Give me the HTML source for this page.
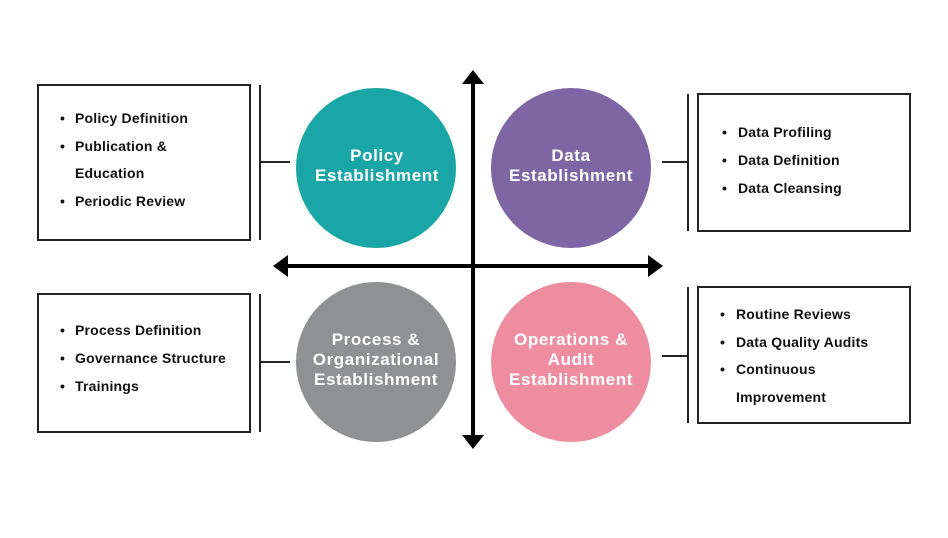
<!DOCTYPE html>
<html><head><style>body{margin:0;background:#fff;width:948px;height:533px;overflow:hidden}</style></head>
<body>
<svg width="948" height="533" viewBox="0 0 948 533" xmlns="http://www.w3.org/2000/svg" font-family="'Liberation Sans',sans-serif">
<rect width="948" height="533" fill="#fff"/>
<g fill="none" stroke="#222" stroke-width="2">
<rect x="38" y="85" width="212" height="155"/>
<rect x="698" y="94" width="212" height="137"/>
<rect x="38" y="294" width="212" height="138"/>
<rect x="698" y="287" width="212" height="136"/>
<line x1="260" y1="85" x2="260" y2="240"/><line x1="260" y1="162" x2="290" y2="162"/>
<line x1="688" y1="94" x2="688" y2="231"/><line x1="662" y1="162" x2="688" y2="162"/>
<line x1="260" y1="294" x2="260" y2="432"/><line x1="260" y1="362" x2="290" y2="362"/>
<line x1="688" y1="287" x2="688" y2="423"/><line x1="662" y1="356" x2="688" y2="356"/>
</g>
<circle cx="376" cy="168" r="80" fill="#1aa6a6"/>
<circle cx="571" cy="168" r="80" fill="#7d66a3"/>
<circle cx="376" cy="362" r="80" fill="#909193"/>
<circle cx="571" cy="362" r="80" fill="#ee8d9f"/>
<g stroke="#000" stroke-width="4"><line x1="473" y1="80" x2="473" y2="438"/><line x1="284" y1="266" x2="652" y2="266"/></g>
<g fill="#000">
<polygon points="473,70 462,84 484,84"/><polygon points="473,449 462,435 484,435"/>
<polygon points="273,266 288,255 288,277"/><polygon points="663,266 648,255 648,277"/>
</g>
<g fill="#fff" font-size="17" font-weight="bold" text-anchor="middle" letter-spacing="0.6">
<text x="377" y="161">Policy</text><text x="377" y="181">Establishment</text>
<text x="571" y="161">Data</text><text x="571" y="181">Establishment</text>
<text x="376" y="345">Process &amp;</text><text x="376" y="365">Organizational</text><text x="376" y="385">Establishment</text>
<text x="571" y="345">Operations &amp;</text><text x="571" y="365">Audit</text><text x="571" y="385">Establishment</text>
</g>
<g fill="#111" font-size="14" font-weight="bold" letter-spacing="0.2">
<text x="60" y="123">•</text><text x="75" y="123">Policy Definition</text>
<text x="60" y="151">•</text><text x="75" y="151">Publication &amp;</text>
<text x="75" y="178">Education</text>
<text x="60" y="206">•</text><text x="75" y="206">Periodic Review</text>
<text x="722" y="137">•</text><text x="738" y="137">Data Profiling</text>
<text x="722" y="165">•</text><text x="738" y="165">Data Definition</text>
<text x="722" y="193">•</text><text x="738" y="193">Data Cleansing</text>
<text x="60" y="335">•</text><text x="75" y="335">Process Definition</text>
<text x="60" y="363">•</text><text x="75" y="363">Governance Structure</text>
<text x="60" y="391">•</text><text x="75" y="391">Trainings</text>
<text x="720" y="319">•</text><text x="736" y="319">Routine Reviews</text>
<text x="720" y="347">•</text><text x="736" y="347">Data Quality Audits</text>
<text x="720" y="374">•</text><text x="736" y="374">Continuous</text>
<text x="736" y="402">Improvement</text>
</g>
</svg>
</body></html>
